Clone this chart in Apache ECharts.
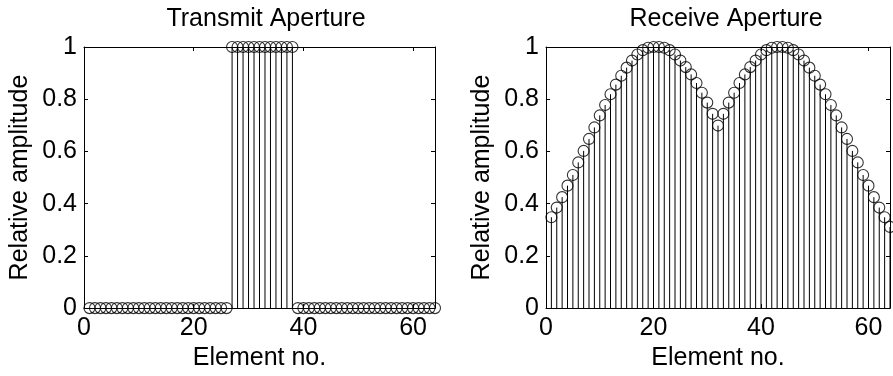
<!DOCTYPE html>
<html>
<head>
<meta charset="utf-8">
<script src="https://cdn.jsdelivr.net/npm/echarts@6/dist/echarts.min.js"></script>
<style>
  html, body { margin: 0; padding: 0; background: #fff; }
  #chart { width: 893px; height: 376px; }
</style>
</head>
<body>
<div id="chart"></div>
<script>
var chart = echarts.init(document.getElementById('chart'));

var titles = ['Transmit Aperture', 'Receive Aperture'];
var xName = 'Element no.';
var yName = 'Relative amplitude';
var xTicks = [0, 20, 40, 60];
var yTicks = [0, 0.2, 0.4, 0.6, 0.8, 1];

// element 1..64
var transmit = [
    0, 0, 0, 0, 0, 0, 0, 0, 0, 0, 0, 0, 0, 0, 0, 0,
    0, 0, 0, 0, 0, 0, 0, 0, 0, 0, 1, 1, 1, 1, 1, 1,
    1, 1, 1, 1, 1, 1, 0, 0, 0, 0, 0, 0, 0, 0, 0, 0,
    0, 0, 0, 0, 0, 0, 0, 0, 0, 0, 0, 0, 0, 0, 0, 0
];
var receive = [
    0.348, 0.385, 0.425, 0.469, 0.510, 0.558, 0.602, 0.648,
    0.692, 0.738, 0.778, 0.819, 0.856, 0.890, 0.921, 0.948,
    0.971, 0.988, 0.997, 1.000, 1.000, 0.997, 0.988, 0.971,
    0.948, 0.923, 0.895, 0.862, 0.825, 0.787, 0.744, 0.699,
    0.744, 0.787, 0.825, 0.862, 0.895, 0.923, 0.948, 0.971,
    0.988, 0.997, 1.000, 1.000, 0.997, 0.988, 0.971, 0.948,
    0.921, 0.890, 0.856, 0.819, 0.778, 0.738, 0.692, 0.648,
    0.602, 0.558, 0.510, 0.469, 0.425, 0.385, 0.348, 0.311
];

var font = 'Liberation Sans, Arial, Helvetica, sans-serif';
var fontSize = 25;

function toPoints(vals) {
    var res = [];
    for (var i = 0; i < vals.length; i++) {
        res.push([i + 1, vals[i]]);
    }
    return res;
}

function stemItem(params, api) {
    var top = api.coord([api.value(0), api.value(1)]);
    var base = api.coord([api.value(0), 0]);
    return {
        type: 'line',
        shape: { x1: top[0], y1: top[1], x2: base[0], y2: base[1] },
        style: { stroke: '#000', lineWidth: 1 }
    };
}

var tickStyle = {
    show: true,
    inside: true,
    length: 4,
    lineStyle: { color: '#000', width: 1 }
};
var lineStyle = { show: true, onZero: false, lineStyle: { color: '#000', width: 1 } };

function xAxisFor(grid, pos) {
    return {
        type: 'value',
        gridIndex: grid,
        position: pos,
        min: 0,
        max: 64,
        interval: 20,
        name: pos === 'bottom' ? xName : '',
        nameLocation: 'middle',
        nameGap: 33,
        nameTextStyle: { color: '#000', fontFamily: font, fontSize: fontSize },
        axisLine: lineStyle,
        axisTick: tickStyle,
        splitLine: { show: false },
        axisLabel: {
            show: pos === 'bottom',
            color: '#000',
            fontFamily: font,
            fontSize: fontSize,
            margin: 8,
            formatter: function (v) { return xTicks.indexOf(v) >= 0 ? String(v) : ''; }
        }
    };
}

function yAxisFor(grid, pos) {
    return {
        type: 'value',
        gridIndex: grid,
        position: pos,
        min: 0,
        max: 1,
        interval: 0.2,
        name: pos === 'left' ? yName : '',
        nameLocation: 'middle',
        nameGap: 51,
        nameTextStyle: { color: '#000', fontFamily: font, fontSize: fontSize },
        axisLine: lineStyle,
        axisTick: tickStyle,
        splitLine: { show: false },
        axisLabel: {
            show: pos === 'left',
            color: '#000',
            fontFamily: font,
            fontSize: fontSize,
            margin: 7,
            formatter: function (v) { return yTicks.indexOf(Math.round(v * 10) / 10) >= 0 ? String(Math.round(v * 10) / 10) : ''; }
        }
    };
}

function stemSeries(vals, axis) {
    var pts = toPoints(vals);
    return [
        {
            type: 'custom',
            xAxisIndex: axis,
            yAxisIndex: axis,
            renderItem: stemItem,
            clip: false,
            silent: true,
            data: pts
        },
        {
            type: 'scatter',
            xAxisIndex: axis,
            yAxisIndex: axis,
            symbol: 'circle',
            symbolSize: 11,
            clip: false,
            silent: true,
            itemStyle: { color: 'rgba(0,0,0,0)', borderColor: '#000', borderWidth: 1.1 },
            data: pts
        }
    ];
}

var option = {
    backgroundColor: '#fff',
    animation: false,
    title: [
        {
            text: titles[0],
            left: 261,
            top: 2,
            textAlign: 'center',
            textStyle: { color: '#000', fontFamily: font, fontSize: fontSize, fontWeight: 'normal' }
        },
        {
            text: titles[1],
            left: 721,
            top: 2,
            textAlign: 'center',
            textStyle: { color: '#000', fontFamily: font, fontSize: fontSize, fontWeight: 'normal' }
        }
    ],
    grid: [
        { left: 84, right: 458, top: 47, bottom: 62 },
        { left: 546, right: -4, top: 47, bottom: 62 }
    ],
    xAxis: [
        xAxisFor(0, 'bottom'),
        xAxisFor(0, 'top'),
        xAxisFor(1, 'bottom'),
        xAxisFor(1, 'top')
    ],
    yAxis: [
        yAxisFor(0, 'left'),
        yAxisFor(0, 'right'),
        yAxisFor(1, 'left'),
        yAxisFor(1, 'right')
    ],
    series: stemSeries(transmit, 0).concat(stemSeries(receive, 2))
};
chart.setOption(option);
</script>
</body>
</html>
